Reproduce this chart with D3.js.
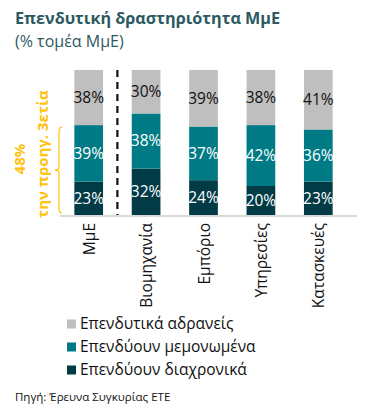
<!DOCTYPE html>
<html>
<head>
<meta charset="utf-8">
<script src="https://cdn.jsdelivr.net/npm/d3@7"></script>
<style>
  body { margin: 0; background: #fff; }
  svg text { font-family: "Open Sans", "Noto Sans", sans-serif; }
</style>
</head>
<body>
<svg id="chart" width="370" height="417"></svg>
<script>
const categories = ["ΜμΕ", "Βιομηχανία", "Εμπόριο", "Υπηρεσίες", "Κατασκευές"];
const seriesNames = ["Επενδύουν διαχρονικά", "Επενδύουν μεμονωμένα", "Επενδυτικά αδρανείς"];
const diaxronika = [23, 32, 24, 20, 23];
const memonomena = [39, 38, 37, 42, 36];
const adraneis = [38, 30, 39, 38, 41];
const colors = ["#003B46", "#007B85", "#BFBFBF"];
const labelColors = ["#fff", "#fff", "#111"];

const svg = d3.select("#chart");
const margin = { left: 60, right: 23, top: 70, bottom: 202 };
const width = 370 - margin.left - margin.right;
const height = 417 - margin.top - margin.bottom;

// title
svg.append("text").attr("x", 15).attr("y", 24)
  .attr("fill", "#2C5961").style("font-size", "16.2px").style("font-weight", "bold")
  .text("Επενδυτική δραστηριότητα ΜμΕ");
svg.append("text").attr("x", 15).attr("y", 47)
  .attr("fill", "#2C5961").style("font-size", "16px")
  .text("(% τομέα ΜμΕ)");

const g = svg.append("g").attr("transform", `translate(${margin.left},${margin.top})`);

const x = d3.scaleBand().domain(categories).range([0, width]).paddingInner(0.5).paddingOuter(0.25);
const y = d3.scaleLinear().domain([0, 100]).range([height, 0]);

const rows = categories.map((c, i) => ({ cat: c, s0: diaxronika[i], s1: memonomena[i], s2: adraneis[i] }));
const stack = d3.stack().keys(["s0", "s1", "s2"])(rows);

stack.forEach((layer, li) => {
  const lg = g.append("g");
  lg.selectAll("rect").data(layer).enter().append("rect")
    .attr("x", d => x(d.data.cat))
    .attr("y", d => y(d[1]))
    .attr("width", x.bandwidth())
    .attr("height", d => y(d[0]) - y(d[1]))
    .attr("fill", colors[li]);
  lg.selectAll("text").data(layer).enter().append("text")
    .attr("x", d => x(d.data.cat) + x.bandwidth() / 2)
    .attr("y", d => (y(d[0]) + y(d[1])) / 2)
    .attr("dy", "0.35em")
    .attr("text-anchor", "middle")
    .attr("fill", labelColors[li])
    .style("font-size", "15.5px")
    .text(d => (d[1] - d[0]) + "%");
});

// baseline
g.append("line").attr("x1", 0).attr("x2", width + 10)
  .attr("y1", height + 1).attr("y2", height + 1)
  .attr("stroke", "#D9D9D9").attr("stroke-width", 2);

// dashed separator between ΜμΕ and sectors
const sepX = (x(categories[0]) + x.bandwidth() + x(categories[1])) / 2;
g.append("line").attr("x1", sepX).attr("x2", sepX)
  .attr("y1", 0).attr("y2", height)
  .attr("stroke", "#111").attr("stroke-width", 2.2).attr("stroke-dasharray", "7,5");

// x labels
g.selectAll(".xl").data(categories).enter().append("text")
  .attr("transform", d => `translate(${x(d) + x.bandwidth() / 2 + 6},${height + 8}) rotate(-90)`)
  .attr("text-anchor", "end")
  .attr("fill", "#111")
  .style("font-size", "15.5px")
  .text(d => d);

// bracket for 48%
const yb0 = y(diaxronika[0] + memonomena[0]) + 2;
const yb1 = y(0) - 2;
const ym = (yb0 + yb1) / 2;
const bx = -1;
g.append("path")
  .attr("d", `M${bx + 3},${yb0} Q${bx},${yb0} ${bx},${yb0 + 4} L${bx},${ym - 3} Q${bx},${ym} ${bx - 4},${ym} Q${bx},${ym} ${bx},${ym + 3} L${bx},${yb1 - 4} Q${bx},${yb1} ${bx + 3},${yb1}`)
  .attr("fill", "none").attr("stroke", "#FFC20E").attr("stroke-width", 1.2);

g.append("text")
  .attr("transform", `translate(-35,${ym - 11}) rotate(-90)`)
  .attr("text-anchor", "middle").attr("fill", "#FFC20E")
  .style("font-size", "15px").style("font-weight", "bold")
  .text("48%");
g.append("text")
  .attr("transform", `translate(-12,${ym - 16}) rotate(-90)`)
  .attr("text-anchor", "middle").attr("fill", "#FFC20E")
  .style("font-size", "15px").style("font-weight", "bold")
  .text("την προηγ. 3ετία");

// legend
const legendOrder = [2, 1, 0];
const lgd = svg.append("g").attr("transform", "translate(67,324)");
legendOrder.forEach((si, k) => {
  lgd.append("rect").attr("x", 0).attr("y", k * 23 - 4.5).attr("width", 9).attr("height", 9)
    .attr("fill", colors[si]);
  lgd.append("text").attr("x", 13).attr("y", k * 23).attr("dy", "0.35em")
    .attr("fill", "#111").style("font-size", "15.5px")
    .text(seriesNames[si]);
});

// source
svg.append("text").attr("x", 15).attr("y", 401)
  .attr("fill", "#111").style("font-size", "11.5px")
  .text("Πηγή:  Έρευνα Συγκυρίας ΕΤΕ");
</script>
</body>
</html>
